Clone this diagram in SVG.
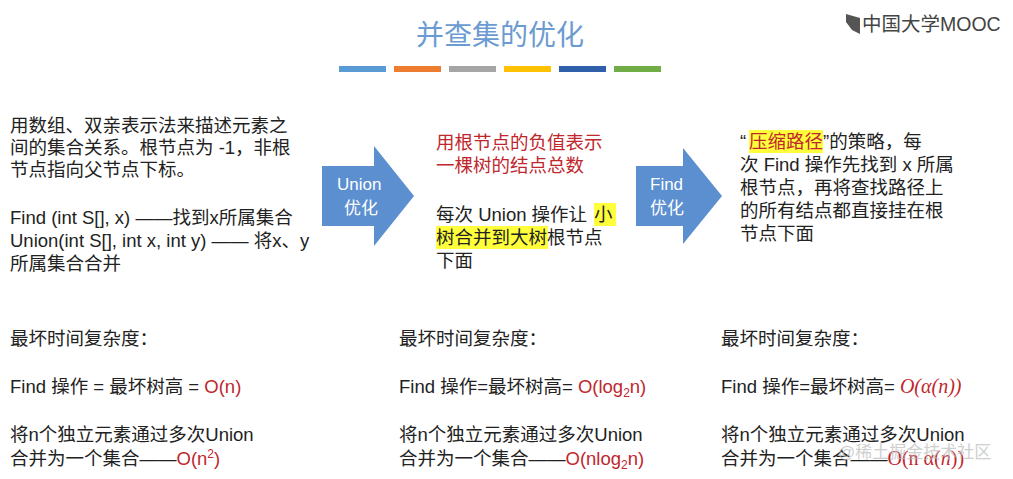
<svg xmlns="http://www.w3.org/2000/svg" width="1013" height="479" viewBox="0 0 1013 479">
<style>
text{font-family:"Liberation Sans","Noto Sans CJK SC",sans-serif;font-size:18.5px;fill:#222}
.r{fill:#c0272d}
.a{fill:#5b8fd0}
.at{fill:#fff;font-size:17px}
.hl{fill:#ffff3c}
</style>
<rect width="1013" height="479" fill="#fff"/>
<g id="title"><text x="500" y="45" text-anchor="middle" style="font-size:28px;fill:#6b9bd1">并查集的优化</text></g>
<g id="bars">
<rect x="339" y="66" width="47" height="6" fill="#5b9bd5"/>
<rect x="394" y="66" width="47" height="6" fill="#ed7d31"/>
<rect x="449" y="66" width="47" height="6" fill="#a5a5a5"/>
<rect x="504" y="66" width="47" height="6" fill="#ffc000"/>
<rect x="559" y="66" width="47" height="6" fill="#2f5fa8"/>
<rect x="614" y="66" width="47" height="6" fill="#70ad47"/>
</g>
<g id="logo"><path d="M846 14 L860 18 L860 34 L852 30 L846 22Z" fill="#555"/><text x="862" y="31" style="font-size:19.5px;fill:#444">中国大学MOOC</text></g>
<g id="left">
<text x="10" y="132">用数组、双亲表示法来描述元素之</text>
<text x="10" y="154">间的集合关系。根节点为 -1，非根</text>
<text x="10" y="176">节点指向父节点下标。</text>
<text x="10" y="224">Find (int S[], x) ——找到x所属集合</text>
<text x="10" y="247">Union(int S[], int x, int y) —— 将x、y</text>
<text x="10" y="270">所属集合合并</text>
</g>
<g id="connectors">
<g id="arrow1"><path d="M322 166 H374 V146 L414 196 L374 246 V226 H322Z" class="a"/>
<text x="337" y="190" class="at">Union</text><text x="344" y="214" class="at">优化</text></g>
<g id="arrow2"><path d="M636 166 H683 V148 L722 196 L683 244 V226 H636Z" class="a"/>
<text x="650" y="190" class="at">Find</text><text x="650" y="214" class="at">优化</text></g>
</g>
<g id="middle">
<rect x="594" y="203" width="22" height="23" class="hl"/>
<rect x="436" y="226" width="112" height="23" class="hl"/>
<text x="436" y="149" class="r">用根节点的负值表示</text>
<text x="436" y="172" class="r">一棵树的结点总数</text>
<text x="436" y="221">每次 Union 操作让<tspan x="594">小</tspan></text>
<text x="436" y="244">树合并到大树根节点</text>
<text x="436" y="267">下面</text>
</g>
<g id="right">
<rect x="749" y="130" width="74" height="23" class="hl"/>
<text x="740" y="148">“<tspan x="749" class="r">压缩路径</tspan>”的策略，每</text>
<text x="740" y="171">次 Find 操作先找到 x 所属</text>
<text x="740" y="194">根节点，再将查找路径上</text>
<text x="740" y="217">的所有结点都直接挂在根</text>
<text x="740" y="240">节点下面</text>
</g>
<g id="c1">
<text x="10" y="345">最坏时间复杂度：</text>
<text x="10" y="393">Find 操作 = 最坏树高 = <tspan class="r">O(n)</tspan></text>
<text x="10" y="441">将n个独立元素通过多次Union</text>
<text x="10" y="465">合并为一个集合——<tspan class="r">O(n<tspan dy="-7" style="font-size:12px">2</tspan><tspan dy="7">)</tspan></tspan></text>
</g>
<g id="c2">
<text x="399" y="345">最坏时间复杂度：</text>
<text x="399" y="393">Find 操作=最坏树高= <tspan class="r">O(log<tspan dy="4" style="font-size:12px">2</tspan><tspan dy="-4">n)</tspan></tspan></text>
<text x="399" y="441">将n个独立元素通过多次Union</text>
<text x="399" y="465">合并为一个集合——<tspan class="r">O(nlog<tspan dy="4" style="font-size:12px">2</tspan><tspan dy="-4">n)</tspan></tspan></text>
</g>
<g id="c3">
<text x="721" y="345">最坏时间复杂度：</text>
<text x="721" y="393">Find 操作=最坏树高= <tspan class="r" style="font-family:'Liberation Serif',serif;font-style:italic;font-size:20px">O(α(n))</tspan></text>
<text x="721" y="441">将n个独立元素通过多次Union</text>
<text x="721" y="465">合并为一个集合——<tspan class="r" style="font-family:'Liberation Serif',serif;font-size:20px">O(n α(<tspan style="font-style:italic">n</tspan>))</tspan></text>
</g>
<g id="watermark"><text x="838" y="458" style="fill:#bbb;font-size:17px;opacity:0.7">@稀土掘金技术社区</text></g>
</svg>
